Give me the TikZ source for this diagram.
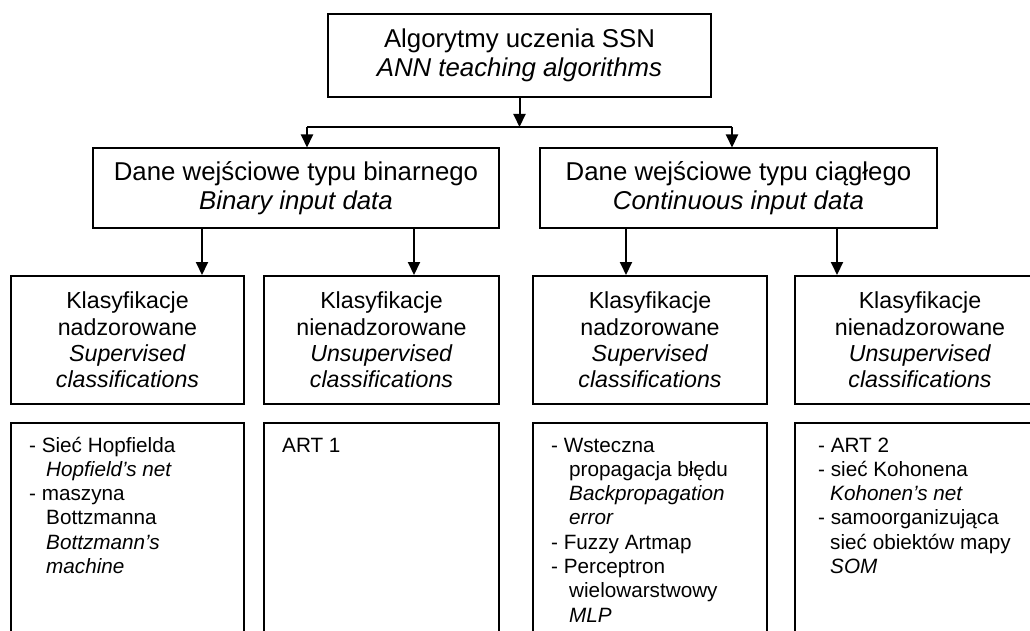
\documentclass[tikz,border=0pt]{standalone}
\usepackage{fontspec}
\setmainfont{Liberation Sans}
\usetikzlibrary{arrows.meta}
\newcommand{\itemlist}[1]{\begin{tabular}[t]{@{}l@{}}#1\end{tabular}}
\begin{document}
\begin{tikzpicture}[x=1pt,y=-1pt,
  box/.style={draw, line width=2pt, inner sep=0pt, align=center},
  link/.style={line width=2pt},
  arr/.style={line width=2pt, -{Triangle[length=13pt,width=12pt]}},
  big/.style={font=\fontsize{25.8}{29}\selectfont},
  mid/.style={font=\fontsize{23.2}{26.4}\selectfont},
  small/.style={font=\fontsize{20.7}{24.3}\selectfont},
  list/.style={small, anchor=base west, inner sep=0pt}]

\clip (0,0) rectangle (1030,631);

% root
\node[box,big,minimum width=383pt,minimum height=83pt] (top) at (519.5,55.5)
  {Algorytmy uczenia SSN\\\textit{ANN teaching algorithms}};

% input data types
\node[box,big,minimum width=406pt,minimum height=79pt] (bin) at (296,188)
  {Dane wejściowe typu binarnego\\\textit{Binary input data}};
\node[box,big,minimum width=397pt,minimum height=79pt] (con) at (738.5,188)
  {Dane wejściowe typu ciągłego\\\textit{Continuous input data}};

% classification kinds
\node[box,mid,minimum width=233pt,minimum height=128pt] (s1) at (127.5,340)
  {Klasyfikacje\\nadzorowane\\\textit{Supervised}\\\textit{classifications}};
\node[box,mid,minimum width=235pt,minimum height=128pt] (u1) at (381.5,340)
  {Klasyfikacje\\nienadzorowane\\\textit{Unsupervised}\\\textit{classifications}};
\node[box,mid,minimum width=234pt,minimum height=128pt] (s2) at (650,340)
  {Klasyfikacje\\nadzorowane\\\textit{Supervised}\\\textit{classifications}};
\node[box,mid,minimum width=250pt,minimum height=128pt] (u2) at (920,340)
  {Klasyfikacje\\nienadzorowane\\\textit{Unsupervised}\\\textit{classifications}};

% method lists (boxes run on below the lower edge)
\node[box,minimum width=233pt,minimum height=237pt] (b1) at (127.5,541.5) {};
\node[box,minimum width=235pt,minimum height=237pt] (b2) at (381.5,541.5) {};
\node[box,minimum width=234pt,minimum height=237pt] (b3) at (650,541.5) {};
\node[box,minimum width=250pt,minimum height=237pt] (b4) at (920,541.5) {};

\node[list] (t1) at (29,452) {\itemlist{%
   - Sieć Hopfielda\\
   \hspace*{17pt}\textit{Hopfield’s net}\\
   - maszyna\\
   \hspace*{17pt}Bottzmanna\\
   \hspace*{17pt}\textit{Bottzmann’s}\\
   \hspace*{17pt}\textit{machine}}};
\node[list] (t2) at (282,452) {ART 1};
\node[list] (t3) at (551,452) {\itemlist{%
   - Wsteczna\\
   \hspace*{18pt}propagacja błędu\\
   \hspace*{18pt}\textit{Backpropagation}\\
   \hspace*{18pt}\textit{error}\\
   - Fuzzy Artmap\\
   - Perceptron\\
   \hspace*{18pt}wielowarstwowy\\
   \hspace*{18pt}\textit{MLP}}};
\node[list] (t4) at (818,452) {\itemlist{%
   - ART 2\\
   - sieć Kohonena\\
   \hspace*{12pt}\textit{Kohonen's net}\\
   - samoorganizująca\\
   \hspace*{12pt}sieć obiektów mapy\\
   \hspace*{12pt}\textit{SOM}}};

% connectors
\coordinate (hub) at (519.5,127);
\coordinate (hubL) at (307,127);
\coordinate (hubR) at (732,127);
\draw[arr] (top.south) -- (hub);
\draw[link] (hubL) -- (hubR);
\draw[arr] (hubL) -- (hubL |- bin.north);
\draw[arr] (hubR) -- (hubR |- con.north);

\coordinate (k1) at (202,0);
\coordinate (k2) at (414,0);
\coordinate (k3) at (626,0);
\coordinate (k4) at (837,0);
\draw[arr] (bin.south -| k1) -- (k1 |- s1.north);
\draw[arr] (bin.south -| k2) -- (k2 |- u1.north);
\draw[arr] (con.south -| k3) -- (k3 |- s2.north);
\draw[arr] (con.south -| k4) -- (k4 |- u2.north);
\end{tikzpicture}
\end{document}
